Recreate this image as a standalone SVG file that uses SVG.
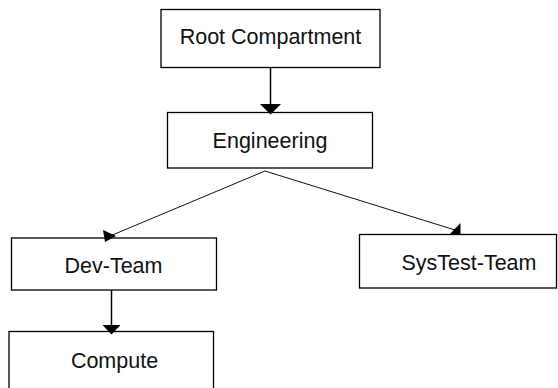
<svg xmlns="http://www.w3.org/2000/svg" width="558" height="388" viewBox="0 0 558 388">
<style>
.box{fill:#fff;stroke:#000;stroke-width:1.3}
.lbl{font-family:"Liberation Sans",Arial,sans-serif;font-size:21.5px;fill:#111;text-anchor:middle}
.edge{fill:none;stroke:#000;stroke-width:1.5}
.thin{fill:none;stroke:#111;stroke-width:1}
.head{fill:#000;stroke:none}
</style>
<g id="root"><rect class="box" x="161" y="9.5" width="219" height="58"/><text class="lbl" x="270.5" y="44.3">Root Compartment</text></g>
<g id="engineering"><rect class="box" x="167.5" y="112.5" width="205" height="55.5"/><text class="lbl" x="270" y="148.3">Engineering</text></g>
<g id="devteam"><rect class="box" x="11.5" y="238" width="205" height="52"/><text class="lbl" x="113.5" y="272.7">Dev-Team</text></g>
<g id="systest"><rect class="box" x="359.5" y="234.5" width="197" height="53.5"/><text class="lbl" x="469" y="270">SysTest-Team</text></g>
<g id="compute"><rect class="box" x="9" y="331.5" width="204.5" height="70"/><text class="lbl" x="114.5" y="368.3">Compute</text></g>
<g id="connectors">
<path class="edge" d="M270.5,67.7 L270.5,106"/>
<polygon class="head" points="260,104 281,104 270.5,114.5"/>
<path class="edge" d="M111.5,290 L111.5,327"/>
<polygon class="head" points="102.5,325 120.5,325 111.5,334.5"/>
<path class="thin" d="M265,171 L110,236"/>
<polygon class="head" points="103,230 116,236 105,242"/>
<path class="thin" d="M265,171 L455,230"/>
<polygon class="head" points="460.5,223 460.5,234.5 449.5,234.5"/>
</g>
</svg>
